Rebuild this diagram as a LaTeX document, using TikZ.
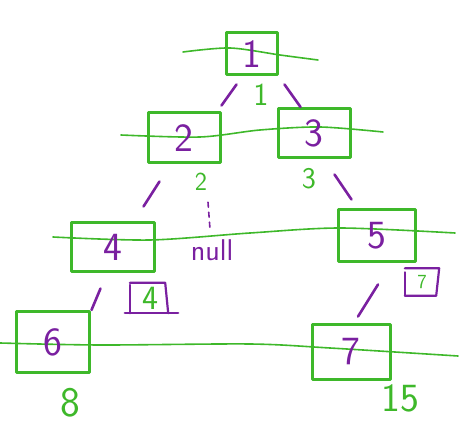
\documentclass[tikz,border=0pt]{standalone}
\usepackage{tikz}
\usepackage{xcolor}
\usetikzlibrary{calc}
\definecolor{penGreen}{RGB}{62,184,42}
\definecolor{penPurple}{RGB}{122,32,160}

\begin{document}
\begin{tikzpicture}[x=1pt, y=-1pt, line cap=round, line join=round,
  box/.style={draw=penGreen, line width=3pt, inner sep=0pt, text=penPurple,
    font=\sffamily\fontsize{40}{40}\selectfont},
  idx/.style={text=penGreen, inner sep=0pt, font=\sffamily\fontsize{#1}{#1}\selectfont},
  rowline/.style={draw=penGreen, line width=1.6pt},
  treeline/.style={draw=penPurple, line width=2.6pt},
  idxmark/.style={draw=penPurple, line width=2.2pt}]
\useasboundingbox (0,0) rectangle (471,427);
% level lines
\draw[rowline] plot[smooth] coordinates {(183,52) (230,48) (280,55) (318,60)};
\draw[rowline] plot[smooth] coordinates {(121,135) (200,137) (260,130) (320,127) (383,132)};
\draw[rowline] plot[smooth] coordinates {(53,237) (150,240) (250,233) (340,228) (455,233)};
\draw[rowline] plot[smooth] coordinates {(0,343) (100,345) (250,344) (330,348) (458,356)};
% nodes
\node[box, minimum width=51pt, minimum height=42pt] (n1) at (252,54) {1};
\node[box, minimum width=72pt, minimum height=50pt] (n2) at (184,138) {2};
\node[box, minimum width=72pt, minimum height=49pt] (n3) at (314,133) {3};
\node[box, minimum width=83pt, minimum height=49pt] (n4) at (113,247) {4};
\node[box, minimum width=77pt, minimum height=52pt] (n5) at (377,236) {5};
\node[box, minimum width=73pt, minimum height=61pt] (n6) at (53,342) {6};
\node[box, minimum width=78pt, minimum height=55pt] (n7) at (351,352) {7};
% indices
\node[idx=32] (i1) at (261,95) {1};
\node[idx=26] (i2) at (201,182) {2};
\node[idx=30] (i3) at (309,179) {3};
\node[idx=42] (i6) at (70,403) {8};
\node[idx=40] (i7) at (400,398) {15};
\node[idx=34, minimum width=40pt, minimum height=30pt] (i4) at (150,298) {4};
\node[idx=20, minimum width=34pt, minimum height=27pt] (i5) at (422,282) {7};
\node[text=penPurple, inner sep=0pt, font=\sffamily\fontsize{30}{30}\selectfont] (nul) at (212,250) {null};
% purple marks round the indices
\draw[idxmark] ([yshift=-2pt]i4.north west) -- (i4.south west);
\draw[idxmark] (i4.north west) -- ([xshift=-5pt]i4.north east) -- ([xshift=-2pt]i4.south east);
\draw[idxmark] ([xshift=-5pt]i4.south west) -- ([xshift=8pt]i4.south east);
\draw[idxmark] ([yshift=-4pt]i5.north west) -- (i5.south west);
\draw[idxmark] (i5.north west) -- (i5.north east) -- ([xshift=-3pt]i5.south east) -- (i5.south west);
% edges
\draw[treeline] ($(n1.south west)+(11.5,8)$) -- ($(n2.north east)+(0,-6)$);
\draw[treeline] ($(n1.south east)+(5.5,8)$) -- ($(n3.north west)+(24,0)$);
\draw[treeline] ($(n2.south west)+(13,17)$) -- ($(n4.north east)+(-12.5,-14.5)$);
\draw[treeline] ($(n3.south east)+(-17,15.5)$) -- ($(n5.north west)+(14.5,-9)$);
\draw[treeline] ($(n4.south west)+(30.5,15.5)$) -- ($(n6.north east)+(0.5,0)$);
\draw[treeline] ($(n5.south)+(1,21)$) -- ($(n7.north)+(7,-6.5)$);
\draw[treeline, line width=1.6pt, dash pattern=on 5pt off 5pt] ($(nul.north)+(-4,-37)$) -- ($(nul.north)+(-2,-10)$);
\end{tikzpicture}
\end{document}
